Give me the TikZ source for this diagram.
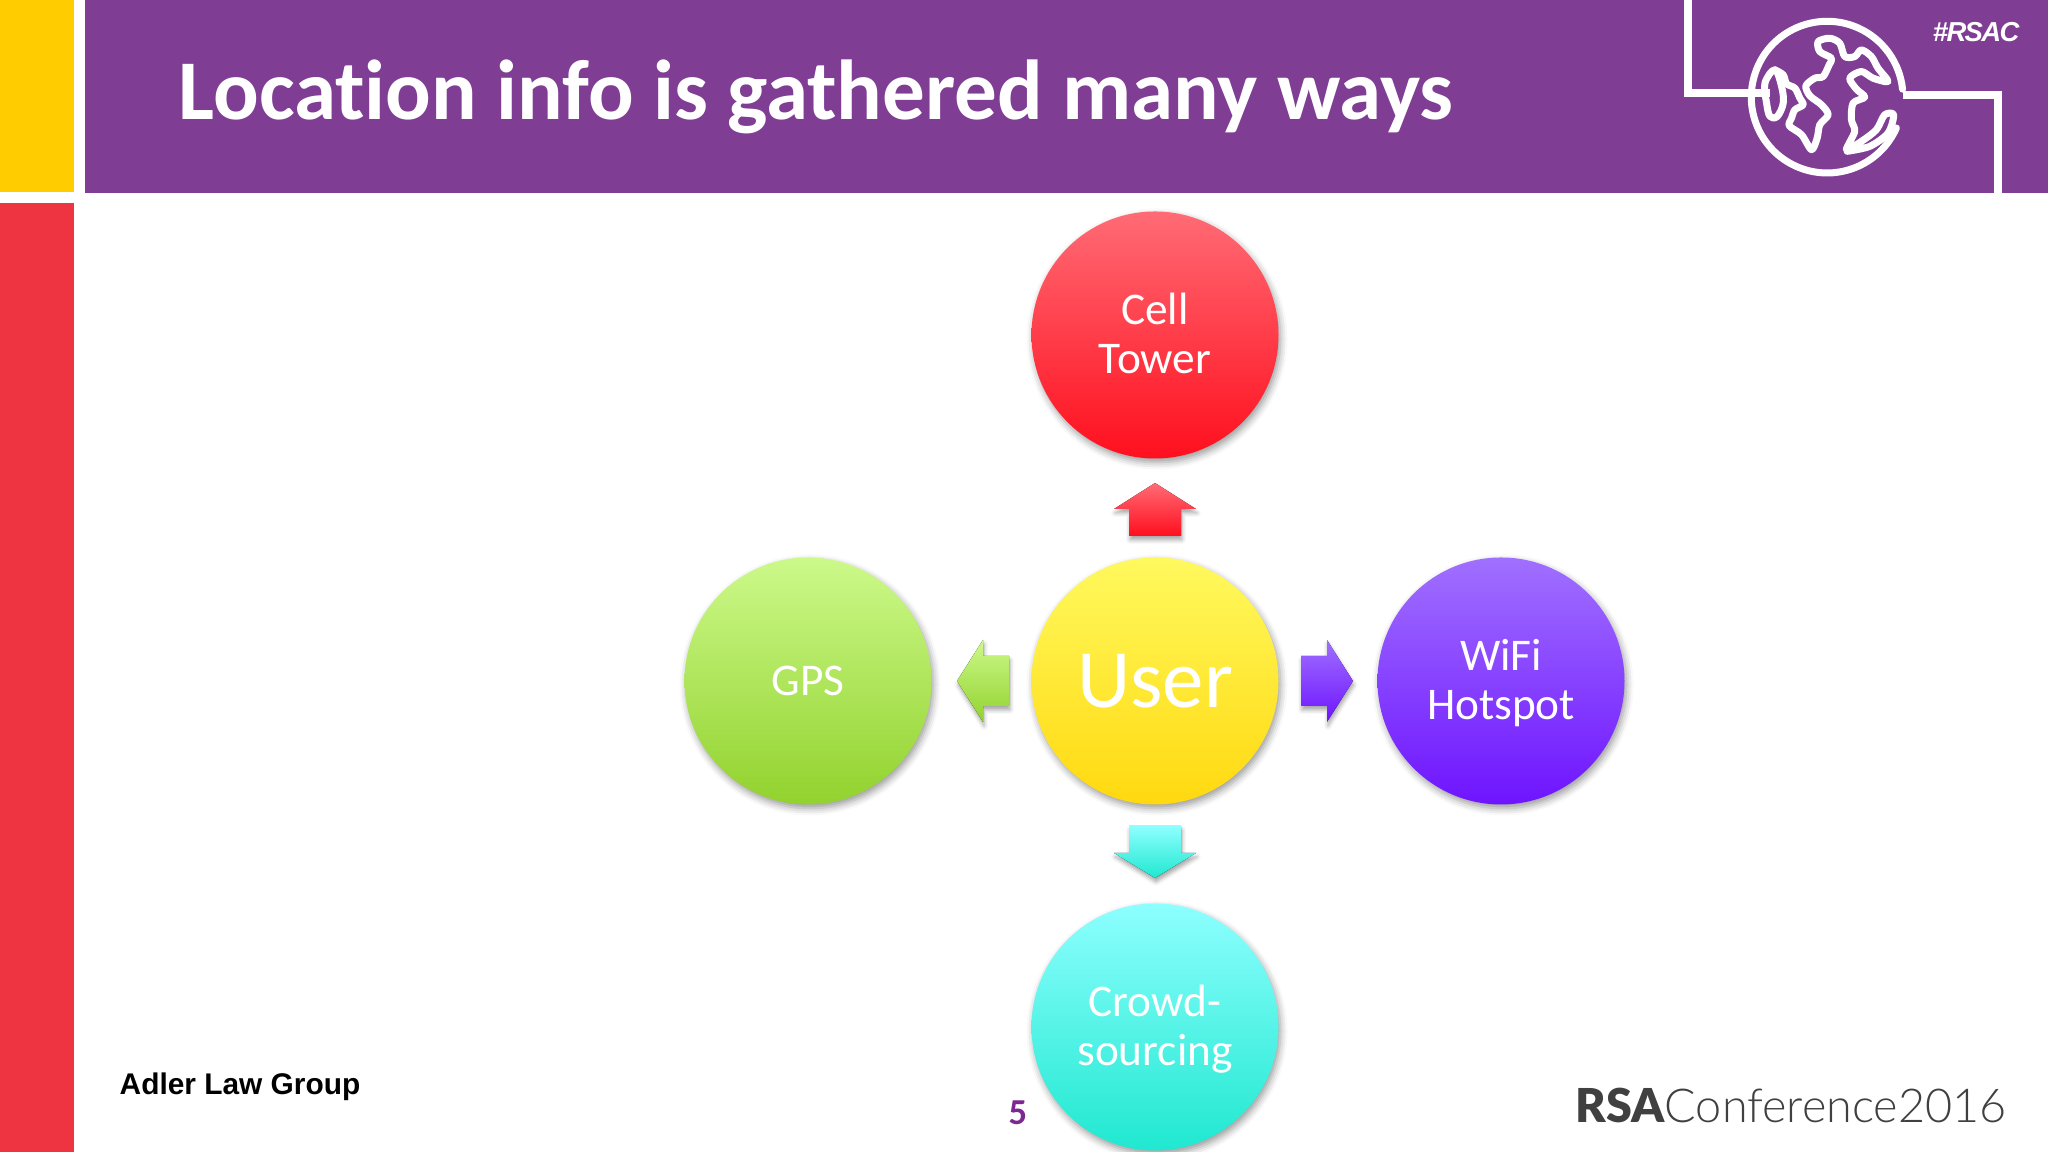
\documentclass[tikz,border=0pt]{standalone}
\usepackage{xcolor}
\usepackage{fontspec}
\setmainfont{Carlito}[Ligatures=NoCommon]
\newfontfamily\arialfont{Liberation Sans}[LetterSpace=-6]
\newfontfamily\firmfont{Liberation Sans}
\newfontfamily\logofont{Lato Light}
\newfontfamily\logoboldfont{Lato Black}
\usetikzlibrary{shadows.blur}

\newcommand{\labelstrut}{\rule[-0.22\baselineskip]{0pt}{\baselineskip}}

\definecolor{slidepurple}{RGB}{127,61,148}
\definecolor{slideyellow}{RGB}{255,204,0}
\definecolor{slidered}{RGB}{238,52,64}
\definecolor{numpurple}{RGB}{125,40,145}
\definecolor{redtop}{RGB}{255,107,117}
\definecolor{redbot}{RGB}{255,15,30}
\definecolor{yellowtop}{RGB}{255,249,94}
\definecolor{yellowbot}{RGB}{255,217,15}
\definecolor{greentop}{RGB}{204,249,138}
\definecolor{greenbot}{RGB}{146,210,46}
\definecolor{violettop}{RGB}{160,112,255}
\definecolor{violetbot}{RGB}{110,20,255}
\definecolor{cyantop}{RGB}{141,255,255}
\definecolor{cyanbot}{RGB}{32,232,208}

\tikzset{
    bubble/.style={circle, minimum size=2.47cm, inner sep=0pt, text=white, align=center,
        font=\fontsize{12.9}{14.1}\selectfont,
        blur shadow={shadow xshift=0.02cm, shadow yshift=-0.04cm, shadow blur radius=0.07cm, shadow opacity=40}},
    blockarrow/.style={
        blur shadow={shadow xshift=0.01cm, shadow yshift=-0.04cm, shadow blur radius=0.04cm, shadow opacity=35}},
    redfill/.style={top color=redtop, bottom color=redbot},
    yellowfill/.style={top color=yellowtop, bottom color=yellowbot},
    greenfill/.style={top color=greentop, bottom color=greenbot},
    violetfill/.style={top color=violettop, bottom color=violetbot},
    cyanfill/.style={top color=cyantop, bottom color=cyanbot},
    globeline/.style={white, line width=0.07cm, line join=round, line cap=round},
}

\begin{document}
\begin{tikzpicture}
    \useasboundingbox (0,0) rectangle (20.48,11.52);

    \fill[slideyellow] (0,9.60) rectangle (0.74,11.52);
    \fill[slidepurple] (0.85,9.59) rectangle (20.48,11.52);
    \fill[slidered] (0,0) rectangle (0.74,9.49);

    \node[anchor=base west, inner sep=0pt, text=white, font=\fontsize{24.2}{28}\bfseries\selectfont] (title) at (1.78,10.32) {Location info is gathered many ways};
    \node[anchor=base east, inner sep=0pt, text=white, font=\arialfont\fontsize{7.8}{9}\bfseries\itshape\selectfont] (hashtag) at (20.20,11.10) {\#RSAC};

    % frame around the globe
    \draw[white, line width=0.08cm, line join=miter] (16.88,11.52) -- (16.88,10.59) -- (17.70,10.59);
    \draw[white, line width=0.08cm, line join=miter] (19.03,10.57) -- (19.98,10.57) -- (19.98,9.59);

    \begin{scope}[shift={(17.40,11.42)}, x=0.003333cm, y=-0.003333cm]
        \draw[globeline] (262,262) ++(24:228) arc[start angle=24, end angle=354, radius=228];
        \draw[globeline] plot[smooth, tension=0.5] coordinates {(105,180) (130,195) (140,222) (165,235) (180,265) (190,285) (165,300) (155,325) (148,348) (185,375) (215,420) (232,385) (240,345) (265,315) (245,285) (210,258) (198,228) (225,205) (250,200) (268,165) (275,145) (240,125) (235,95) (270,85) (300,100) (315,140) (345,140) (365,120) (395,140) (415,175) (445,215) (400,205) (365,185) (330,205) (350,238) (375,262) (340,280) (335,330) (345,365) (320,420) (365,395) (410,360) (435,315) (462,315) (445,370) (390,410) (322,425)};
        \draw[globeline] plot[smooth cycle, tension=0.6] coordinates {(105,180) (125,230) (130,280) (112,320) (90,320) (80,280) (75,220)};
    \end{scope}

    \node[bubble, redfill] (tower) at (11.55,8.17) {Cell\labelstrut\\Tower\labelstrut};
    \node[bubble, yellowfill, font=\fontsize{23.6}{26}\selectfont] (user) at (11.55,4.71) {User};
    \node[bubble, violetfill] (wifi) at (15.01,4.71) {WiFi\labelstrut\\Hotspot\labelstrut};
    \node[bubble, greenfill] (gps) at (8.08,4.71) {GPS};
    \node[bubble, cyanfill] (crowd) at (11.55,1.25) {Crowd-\labelstrut\\sourcing\labelstrut};

    \fill[blockarrow, redfill] (11.55,6.69) -- (11.96,6.43) -- (11.81,6.43) -- (11.81,6.16) -- (11.29,6.16) -- (11.29,6.43) -- (11.14,6.43) -- cycle;
    \fill[blockarrow, cyanfill] (11.55,2.74) -- (11.96,2.99) -- (11.81,2.99) -- (11.81,3.26) -- (11.29,3.26) -- (11.29,2.99) -- (11.14,2.99) -- cycle;
    \fill[blockarrow, violetfill] (13.53,4.71) -- (13.27,5.12) -- (13.27,4.96) -- (13.01,4.96) -- (13.01,4.46) -- (13.27,4.46) -- (13.27,4.30) -- cycle;
    \fill[blockarrow, greenfill] (9.57,4.71) -- (9.83,5.12) -- (9.83,4.96) -- (10.09,4.96) -- (10.09,4.46) -- (9.83,4.46) -- (9.83,4.30) -- cycle;

    \node[anchor=base west, inner sep=0pt, font=\firmfont\fontsize{8.5}{11}\bfseries\selectfont] (firm) at (1.19,0.57) {Adler Law Group};
    \node[anchor=base, inner sep=0pt, text=numpurple, font=\fontsize{10.4}{12}\bfseries\selectfont] (pagenum) at (10.18,0.27) {5};
    \node[anchor=base west, inner sep=0pt, text=black!75, font=\fontsize{13.3}{16}\selectfont] (logo) at (15.75,0.29) {{\logoboldfont RSA}{\logofont Conference2016}};
\end{tikzpicture}
\end{document}
